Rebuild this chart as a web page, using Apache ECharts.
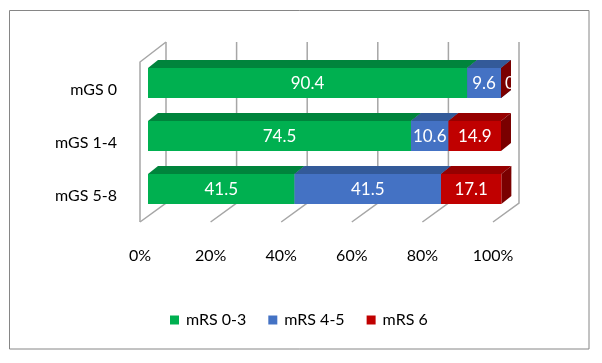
<!DOCTYPE html>
<html>
<head>
<meta charset="utf-8">
<script src="https://cdn.jsdelivr.net/npm/echarts@6/dist/echarts.min.js"></script>
<style>
  html, body { margin: 0; padding: 0; background: #fff; }
  #chart { width: 602px; height: 363px; }
</style>
</head>
<body>
<div id="chart"></div>
<script>
const categories = ['mGS 0', 'mGS 1-4', 'mGS 5-8'];
const seriesNames = ['mRS 0-3', 'mRS 4-5', 'mRS 6'];
const mrs03 = [90.4, 74.5, 41.5];
const mrs45 = [9.6, 10.6, 41.5];
const mrs6 = [0, 14.9, 17.1];
const ticks = [0, 20, 40, 60, 80, 100];

const FONT = 'Lato, "Open Sans", sans-serif';
// front, top, side colours
const shades = [
  ['#00B050', '#00843C', '#006B30'],
  ['#4472C4', '#335A99', '#2B4B80'],
  ['#C00000', '#960000', '#7A0000']
];
const DX = 10, DY = -8, BAR_H = 30;

// cumulative start/end for each segment
const values = [mrs03, mrs45, mrs6];
const acc = categories.map(() => 0);
const segs = values.map(vals => vals.map((v, i) => {
  const s = acc[i];
  acc[i] += v;
  return [s, acc[i], i, v];
}));

function renderBar(si) {
  return function (params, api) {
    const s = api.value(0), e = api.value(1), c = api.value(2), raw = api.value(3);
    const p0 = api.coord([s, c]), p1 = api.coord([e, c]);
    const yT = p0[1] - BAR_H / 2, yB = p0[1] + BAR_H / 2;
    const x0 = p0[0], x1 = p1[0];
    const col = shades[si];
    // a zero segment has its label pushed onto the end face, like Excel does
    const lx = raw === 0 ? x1 + 9 : (x0 + x1) / 2;
    return {
      type: 'group',
      children: [
        { type: 'polygon', shape: { points: [[x0, yT], [x1, yT], [x1 + DX, yT + DY], [x0 + DX, yT + DY]] }, style: { fill: col[1] } },
        { type: 'polygon', shape: { points: [[x1, yT], [x1 + DX, yT + DY], [x1 + DX, yB + DY], [x1, yB]] }, style: { fill: col[2] } },
        { type: 'rect', shape: { x: x0, y: yT, width: x1 - x0, height: BAR_H }, style: { fill: col[0] } },
        { type: 'text', x: lx, y: p0[1] + 1, style: { text: String(raw), fill: '#fff', font: '17px ' + FONT, align: 'center', verticalAlign: 'middle' } }
      ]
    };
  };
}

function renderWall(params, api) {
  const x = api.coord([api.value(0), 0])[0];
  const st = { stroke: '#A6A6A6', lineWidth: 1.5, fill: null };
  const ch = [
    { type: 'polyline', shape: { points: [[x + 26, 42], [x + 26, 203], [x, 222]] }, style: st }
  ];
  if (params.dataIndex === 0) {
    ch.push({ type: 'polyline', shape: { points: [[x, 222], [x, 62], [x + 26, 42]] }, style: st });
  }
  return { type: 'group', children: ch };
}

const chart = echarts.init(document.getElementById('chart'));
const series = [{
  type: 'custom',
  xAxisIndex: 1, yAxisIndex: 1,
  renderItem: renderWall,
  data: ticks.map(t => [t]),
  silent: true,
  z: 1
}];
seriesNames.forEach((name, si) => {
  series.push({
    name: name,
    type: 'custom',
    xAxisIndex: 0, yAxisIndex: 0,
    renderItem: renderBar(si),
    itemStyle: { color: shades[si][0] },
    encode: { x: [0, 1], y: 2 },
    data: segs[si],
    z: 2
  });
});

chart.setOption({
  backgroundColor: '#fff',
  animation: false,
  graphic: [{
    type: 'rect',
    shape: { x: 9.5, y: 10.5, width: 579.5, height: 338.5 },
    style: { fill: null, stroke: '#868686', lineWidth: 1 },
    silent: true
  }],
  legend: {
    data: seriesNames,
    left: 165, top: 307,
    icon: 'rect', itemWidth: 9, itemHeight: 9, itemGap: 22,
    textStyle: { fontFamily: FONT, fontSize: 16, color: '#000', padding: [0, 0, 0, 2] }
  },
  grid: [
    { left: 148, right: 101, top: 56.5, height: 159 },
    { left: 140, right: 109, top: 56.5, height: 159 }
  ],
  xAxis: [
    { gridIndex: 0, type: 'value', min: 0, max: 100, show: false },
    {
      gridIndex: 1, type: 'value', min: 0, max: 100, interval: 20,
      axisLine: { show: false }, axisTick: { show: false }, splitLine: { show: false },
      axisLabel: { margin: 32, formatter: '{value}%', color: '#000', fontFamily: FONT, fontSize: 16 }
    }
  ],
  yAxis: [
    {
      gridIndex: 0, type: 'category', data: categories, inverse: true,
      axisLine: { show: false }, axisTick: { show: false }, splitLine: { show: false },
      axisLabel: { margin: 31, verticalAlign: 'top', lineHeight: 13, color: '#000', fontFamily: FONT, fontSize: 16 }
    },
    { gridIndex: 1, type: 'category', data: categories, inverse: true, show: false }
  ],
  series: series
});
</script>
</body>
</html>
